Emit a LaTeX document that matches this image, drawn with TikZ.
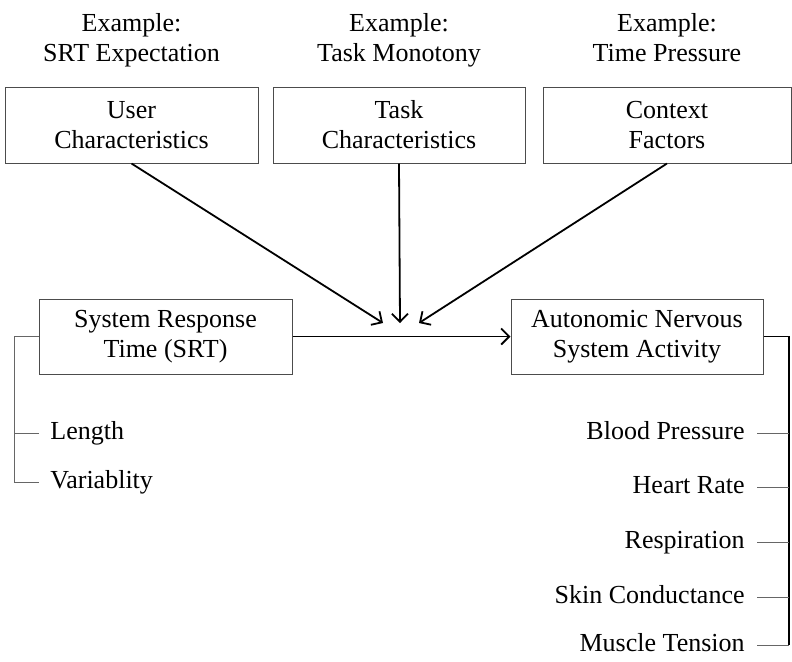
\documentclass[tikz,border=0pt]{standalone}
\usepackage{fontspec}
\setmainfont{Liberation Serif}
\usepackage{tikz}
\usetikzlibrary{arrows.meta}

\tikzset{
	factorbox/.style={draw=black!70, line width=0.5pt, align=center,
		minimum width=126pt, minimum height=38pt, inner sep=2pt},
	flow/.style={line width=0.9pt, -{Straight Barb[length=4pt,width=8pt]}},
	tick/.style={draw=black!60, line width=0.5pt},
	measure/.style={text height=9pt, text depth=3pt},
}

\begin{document}
\begin{tikzpicture}[x=0.5pt, y=-0.5pt, font=\fontsize{13}{15}\selectfont]
	\useasboundingbox (0,0) rectangle (792,661);
	% examples
	\draw (131.5, 6) node[align=center, anchor=north] (ex1) {Example:\\SRT Expectation};
	\draw (399, 6) node[align=center, anchor=north] (ex2) {Example:\\Task Monotony};
	\draw (667, 6) node[align=center, anchor=north] (ex3) {Example:\\Time Pressure};
	% factors
	\draw (131.5, 125) node[factorbox, minimum width=126.5pt] (user) {User\\Characteristics};
	\draw (399, 125) node[factorbox] (task) {Task\\Characteristics};
	\draw (667, 125) node[factorbox, minimum width=124pt] (ctx) {Context\\Factors};
	\draw (165.5, 336.5) node[factorbox, minimum width=126.5pt, minimum height=37.5pt] (srt) {System Response\\Time (SRT)};
	\draw (637, 336.5) node[factorbox, minimum height=37.5pt] (ans) {Autonomic Nervous\\System Activity};
	\coordinate (m1) at (383, 323);
	\coordinate (m2) at (400, 323);
	\coordinate (m3) at (419, 323);
	\draw[flow] (user.south) -- (m1);
	\draw[flow] (task.south) -- (m2);
	\draw[flow] (ctx.south) -- (m3);
	\draw[flow] (srt.east) -- (ans.west);
	% srt attributes
	\draw (39, 433) node[measure, anchor=west, inner sep=5.5pt] (len) {Length};
	\draw (39, 482) node[measure, anchor=west, inner sep=5.5pt] (var) {Variablity};
	\coordinate (lc) at (14, 482);
	\draw[tick] (srt.west) -| (lc) -- (var.west);
	\draw[tick] (len.west) -- (len.west -| lc);
	% measures
	\draw (757, 433) node[measure, anchor=east, inner sep=6pt] (bp) {Blood Pressure};
	\draw (757, 487) node[measure, anchor=east, inner sep=6pt] (hr) {Heart Rate};
	\draw (757, 542) node[measure, anchor=east, inner sep=6pt] (resp) {Respiration};
	\draw (757, 597) node[measure, anchor=east, inner sep=6pt] (skin) {Skin Conductance};
	\draw (757, 645) node[measure, anchor=east, inner sep=6pt] (musc) {Muscle Tension};
	\coordinate (rc) at (789, 645);
	\draw[line width=0.9pt] (ans.east) -| (rc);
	\draw[tick] (bp.east) -- (bp.east -| rc);
	\draw[tick] (hr.east) -- (hr.east -| rc);
	\draw[tick] (resp.east) -- (resp.east -| rc);
	\draw[tick] (skin.east) -- (skin.east -| rc);
	\draw[tick] (musc.east) -- (rc);
\end{tikzpicture}
\end{document}
